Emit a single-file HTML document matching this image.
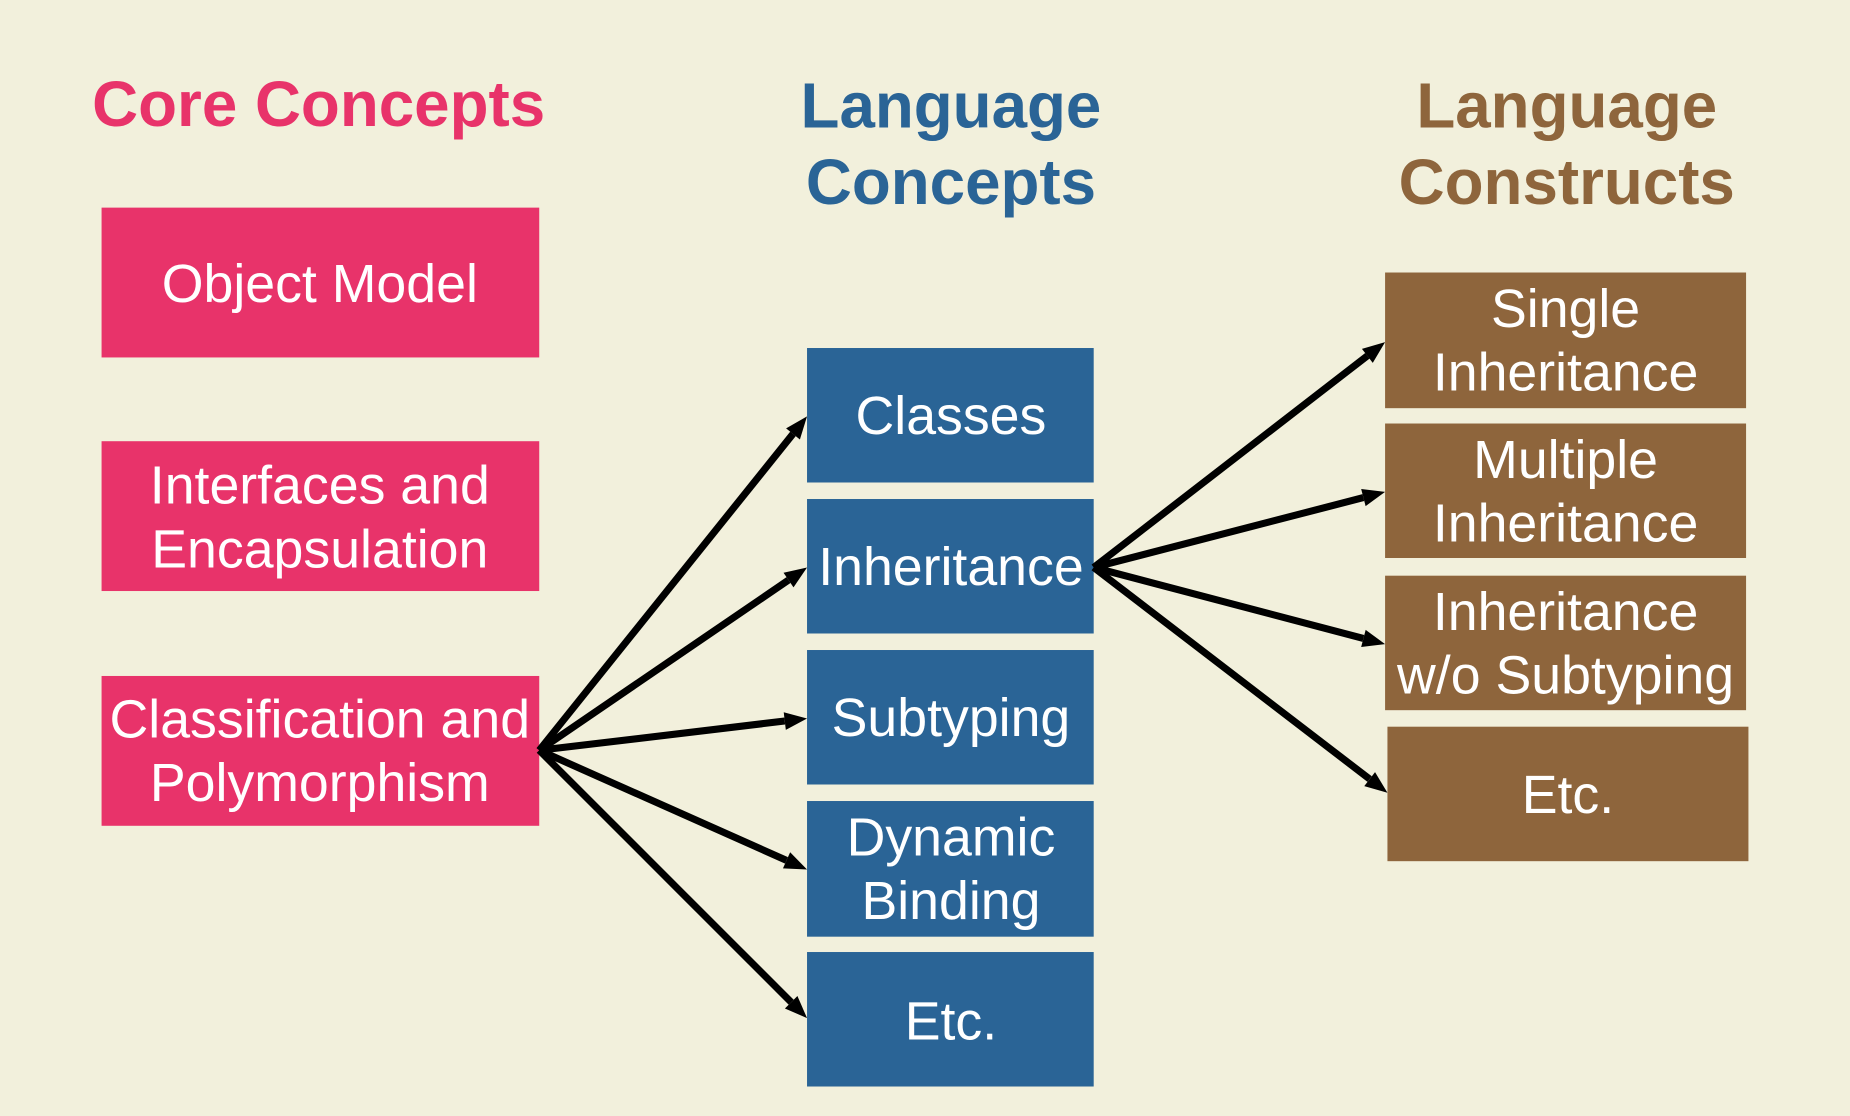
<!DOCTYPE html>
<html><head><meta charset="utf-8"><style>
html,body{margin:0;padding:0;background:#f2f0dc;}
svg{display:block;}
text{font-family:"Liberation Sans",Arial,sans-serif;}
.b{fill:#fff;font-size:45.5px;text-anchor:middle;}
.h{font-size:54px;font-weight:bold;text-anchor:middle;}
</style></head><body>
<svg width="1850" height="1116" viewBox="0 0 1568 946" xmlns="http://www.w3.org/2000/svg">
<rect width="1568" height="946" fill="#f2f0dc"/>
<text class="h" x="270" y="107" fill="#e8336a">Core Concepts</text>
<text class="h" x="806" y="108" fill="#2a6496">Language</text>
<text class="h" x="806" y="173" fill="#2a6496">Concepts</text>
<text class="h" x="1328" y="108" fill="#8e653c">Language</text>
<text class="h" x="1328" y="173" fill="#8e653c">Constructs</text>
<g fill="#e8336a">
<rect x="86" y="176" width="371" height="127"/>
<rect x="86" y="374" width="371" height="127"/>
<rect x="86" y="573" width="371" height="127"/>
</g>
<g fill="#2a6496">
<rect x="684" y="295" width="243" height="114"/>
<rect x="684" y="423" width="243" height="114"/>
<rect x="684" y="551" width="243" height="114"/>
<rect x="684" y="679" width="243" height="115"/>
<rect x="684" y="807" width="243" height="114"/>
</g>
<g fill="#8e653c">
<rect x="1174" y="231" width="306" height="115"/>
<rect x="1174" y="359" width="306" height="114"/>
<rect x="1174" y="488" width="306" height="114"/>
<rect x="1176" y="616" width="306" height="114"/>
</g>
<text class="b" x="271" y="256">Object Model</text>
<text class="b" x="271" y="427">Interfaces and</text>
<text class="b" x="271" y="481">Encapsulation</text>
<text class="b" x="271" y="625">Classification and</text>
<text class="b" x="271" y="679">Polymorphism</text>
<text class="b" x="806" y="368">Classes</text>
<text class="b" x="806" y="496">Inheritance</text>
<text class="b" x="806" y="624">Subtyping</text>
<text class="b" x="806" y="725">Dynamic</text>
<text class="b" x="806" y="779">Binding</text>
<text class="b" x="806" y="881">Etc.</text>
<text class="b" x="1327" y="277">Single</text>
<text class="b" x="1327" y="331">Inheritance</text>
<text class="b" x="1327" y="405">Multiple</text>
<text class="b" x="1327" y="459">Inheritance</text>
<text class="b" x="1327" y="534">Inheritance</text>
<text class="b" x="1327" y="588">w/o Subtyping</text>
<text class="b" x="1329" y="689">Etc.</text>
<g stroke="#000" stroke-width="6">
<line x1="457" y1="636" x2="672.1" y2="367.8"/>
<line x1="457" y1="636" x2="668.3" y2="491.7"/>
<line x1="457" y1="636" x2="665.1" y2="611.2"/>
<line x1="457" y1="636" x2="666.6" y2="729.3"/>
<line x1="457" y1="636" x2="670.6" y2="849.6"/>
<line x1="927" y1="481" x2="1159" y2="301.6"/>
<line x1="927" y1="481" x2="1155.6" y2="421.8"/>
<line x1="927" y1="481" x2="1155.6" y2="541.2"/>
<line x1="927" y1="481" x2="1160.9" y2="660.4"/>
</g>
<g fill="#000">
<polygon points="684,353 677.96,372.5 666.26,363.1"/>
<polygon points="684,481 672.54,497.9 664.08,485.52"/>
<polygon points="684,609 666.02,618.69 664.24,603.79"/>
<polygon points="684,737 663.59,736.13 669.69,722.43"/>
<polygon points="684,863 665.26,854.86 675.86,844.26"/>
<polygon points="1174,290 1163.56,307.55 1154.38,295.69"/>
<polygon points="1174,417 1157.49,429.03 1153.73,414.51"/>
<polygon points="1174,546 1153.72,548.41 1157.54,533.91"/>
<polygon points="1176,672 1156.35,666.38 1165.49,654.48"/>
</g>
</svg>
</body></html>
